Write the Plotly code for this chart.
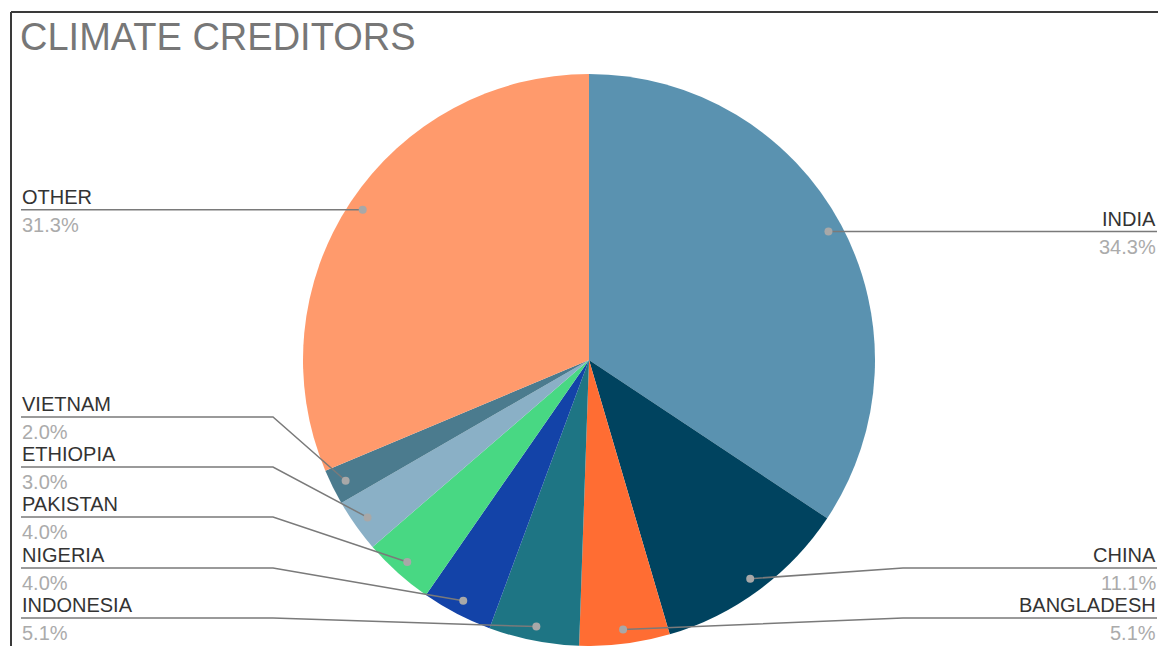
import math
import plotly.graph_objects as go

# ---- data ----
labels = ["INDIA", "CHINA", "BANGLADESH", "INDONESIA", "NIGERIA", "PAKISTAN", "ETHIOPIA", "VIETNAM", "OTHER"]
values = [34.3, 11.1, 5.1, 5.1, 4.0, 4.0, 3.0, 2.0, 31.3]
colors = ["#5a92b0", "#00435f", "#ff6d33", "#1e7584", "#1343a8", "#48d883", "#8ab0c6", "#4b7b8e", "#ff9a6c"]
title_text = "CLIMATE CREDITORS"

# ---- layout constants (pixels) ----
W, H = 1158, 646
cx, cy, r = 589, 360, 286

def px(x):
    return x / W

def py(y):
    return 1 - y / H

fig = go.Figure(go.Pie(
    labels=labels, values=values, sort=False, direction="clockwise", rotation=0,
    marker=dict(colors=colors, line=dict(width=0)),
    textinfo="none", hoverinfo="label+percent", showlegend=False,
    domain=dict(x=[px(cx - r), px(cx + r)], y=[py(cy + r), py(cy - r)]),
))

# label placement: side and line y (layout), line y=None -> horizontal line at dot height
placement = {
    "INDIA": ("right", None),
    "CHINA": ("right", 568),
    "BANGLADESH": ("right", 618),
    "INDONESIA": ("left", 618),
    "NIGERIA": ("left", 568),
    "PAKISTAN": ("left", 517),
    "ETHIOPIA": ("left", 467),
    "VIETNAM": ("left", 417),
    "OTHER": ("left", None),
}
LEFT_X, RIGHT_X = 21, 1157
LEFT_ELBOW, RIGHT_ELBOW = 273, 903
FONT = "Liberation Sans, Arial"
LABEL_SIZE = 20

shapes = []
annotations = []
total = sum(values)
cum = 0.0
line_col = "#7a7a7a"
for lab, v in zip(labels, values):
    mid = (cum + v / 2) / total * 2 * math.pi
    cum += v
    dx = cx + 0.95 * r * math.sin(mid)
    dy = cy - 0.95 * r * math.cos(mid)
    side, ly = placement[lab]
    end_x = LEFT_X if side == "left" else RIGHT_X
    if ly is None:
        ly = dy
        path = f"M {px(dx)},{py(dy)} L {px(end_x)},{py(ly)}"
    else:
        elbow = LEFT_ELBOW if side == "left" else RIGHT_ELBOW
        path = f"M {px(dx)},{py(dy)} L {px(elbow)},{py(ly)} L {px(end_x)},{py(ly)}"
    shapes.append(dict(type="path", path=path, xref="paper", yref="paper",
                       line=dict(color=line_col, width=1.5)))
    rr = 4
    shapes.append(dict(type="circle", xref="paper", yref="paper",
                       x0=px(dx - rr), x1=px(dx + rr), y0=py(dy + rr), y1=py(dy - rr),
                       fillcolor="#a8a8a8", line=dict(width=0)))
    anchor = "left" if side == "left" else "right"
    annotations.append(dict(text=lab, x=px(end_x), y=py(ly - 1), xref="paper", yref="paper",
                            xanchor=anchor, yanchor="bottom", showarrow=False, borderpad=0,
                            font=dict(family=FONT, size=LABEL_SIZE, color="#333333")))
    annotations.append(dict(text=f"{v:.1f}%", x=px(end_x), y=py(ly + 3), xref="paper", yref="paper",
                            xanchor=anchor, yanchor="top", showarrow=False, borderpad=0,
                            font=dict(family=FONT, size=LABEL_SIZE, color="#ababab")))

# title
annotations.append(dict(text=title_text, x=px(18), y=py(14), xref="paper", yref="paper",
                        xanchor="left", yanchor="top", showarrow=False,
                        font=dict(family=FONT, size=38, color="#777777")))

# frame lines
shapes.append(dict(type="line", xref="paper", yref="paper", x0=px(11), x1=1, y0=py(12), y1=py(12),
                   line=dict(color="#3a3a3a", width=2)))
shapes.append(dict(type="line", xref="paper", yref="paper", x0=px(11), x1=px(11), y0=py(12), y1=0,
                   line=dict(color="#3a3a3a", width=2)))

fig.update_layout(
    width=W, height=H, margin=dict(l=0, r=0, t=0, b=0),
    paper_bgcolor="white", plot_bgcolor="white",
    shapes=shapes, annotations=annotations,
)

fig.write_html("out.html")
